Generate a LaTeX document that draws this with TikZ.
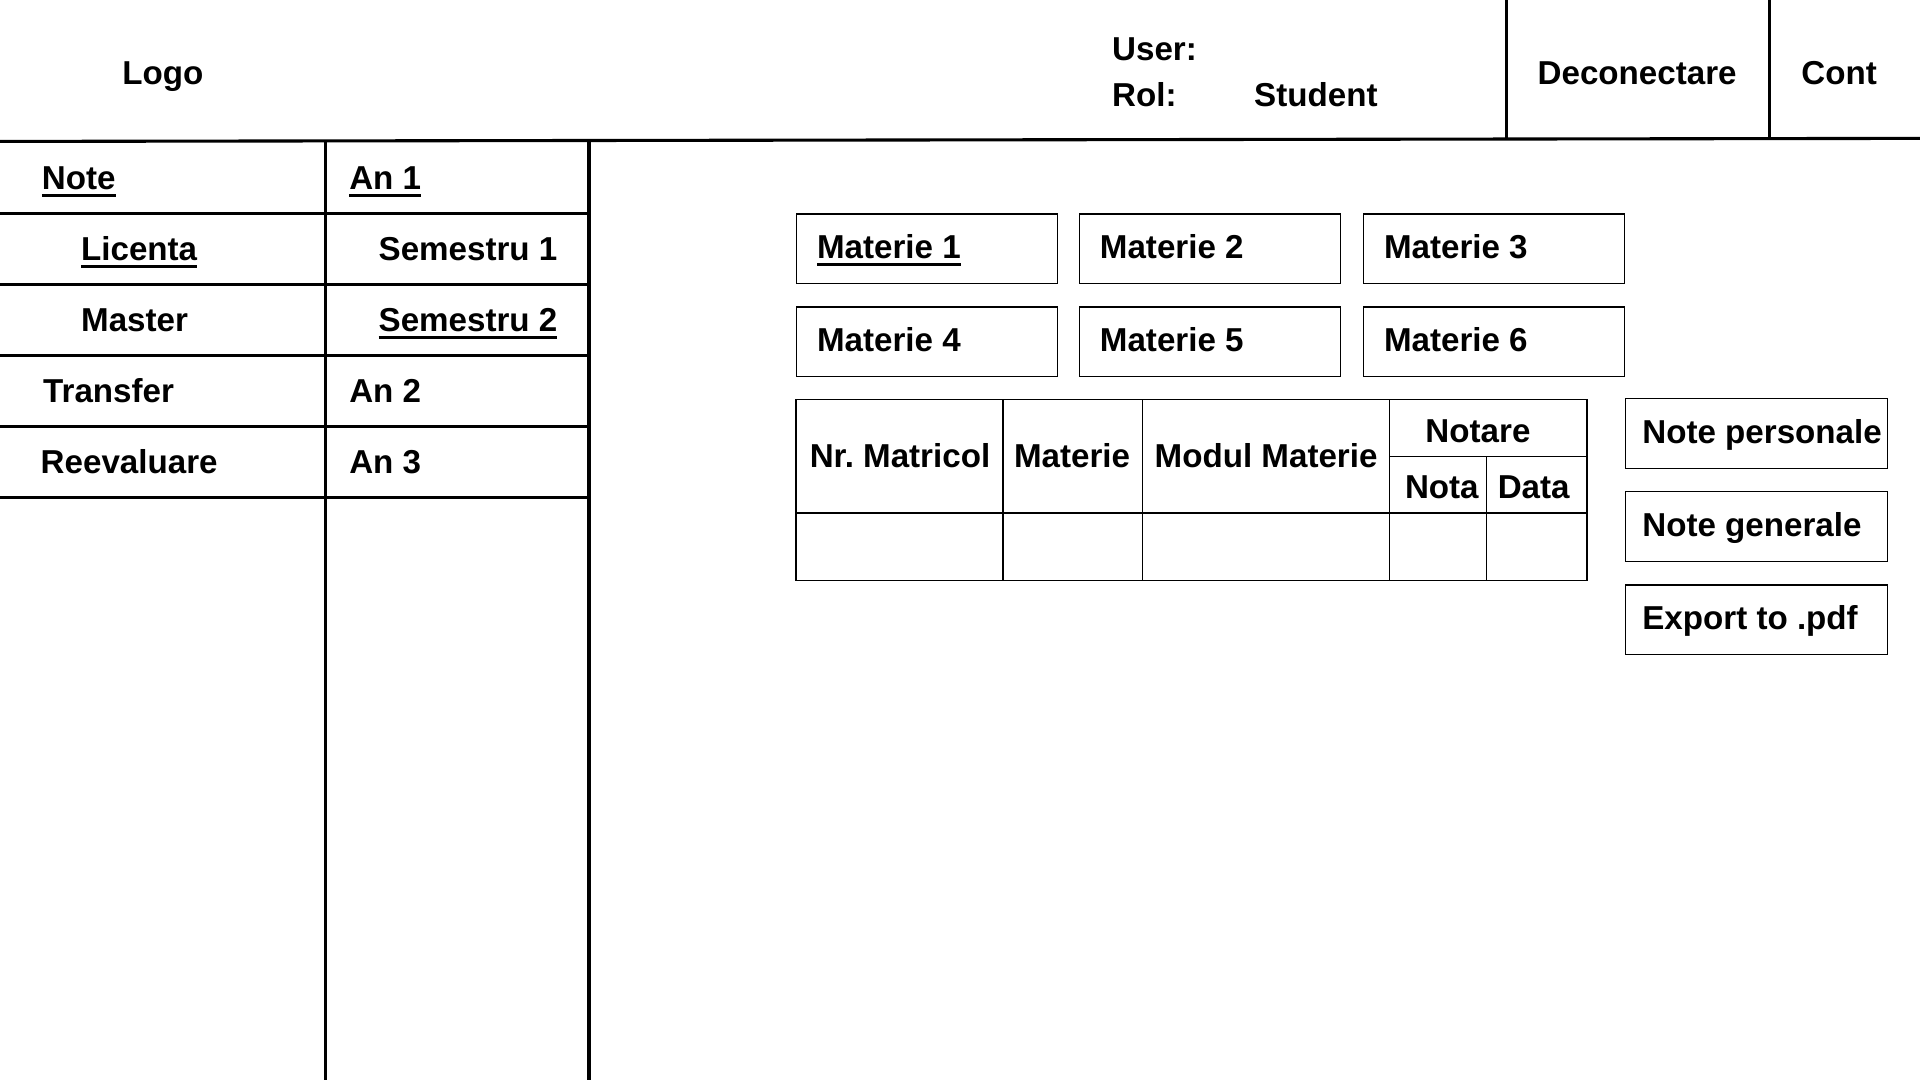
\documentclass[tikz,border=0pt]{standalone}
\usepackage{fontspec}
\setmainfont{Liberation Sans}
\usepackage{tikz}
\frenchspacing

\newcommand{\uifont}{\fontsize{20.3pt}{24pt}\selectfont\bfseries}
\newcommand{\undl}[1]{\setbox0\hbox{#1}\rlap{\raisebox{-4.6pt}{\rule{\wd0}{1.9pt}}}\box0}

\tikzset{
  frame/.style={line width=1.9pt},
  grid/.style={line width=0.8pt},
  lbl/.style={anchor=base west, inner sep=0pt, yshift=0.75pt, font=\uifont},
  lblc/.style={anchor=base, inner sep=0pt, yshift=0.75pt, font=\uifont},
  matbox/.style={draw, line width=0.9pt, anchor=north west, inner sep=0pt, minimum width=159.75pt, minimum height=42.75pt},
  sidebtn/.style={draw, line width=0.9pt, anchor=north west, inner sep=0pt, minimum width=160.5pt, minimum height=42.75pt},
}

\begin{document}
\begin{tikzpicture}[x=0.75pt,y=0.75pt,yscale=-1,xscale=1]
\fill [white] (0,0) rectangle (1568,882) ;
\useasboundingbox (0,0) rectangle (1568,882) ;

%Header bar
\draw [frame] (0,115.5) -- (1568,113) ;
\draw [frame] (1230,0) -- (1230,113.5) ;
\draw [frame] (1445,0) -- (1445,113) ;
\node [lblc] (logo) at (133,70) {Logo};
\node [lbl] (user) at (908,50) {User:};
\node [lbl] (rol) at (908,88) {Rol:};
\node [lbl] (student) at (1024,88) {Student};
\node [lblc] (deconectare) at (1337,70) {Deconectare};
\node [lblc] (cont) at (1502,70) {Cont};

%Side menu
\draw [frame] (266,115.5) -- (266,882) ;
\draw [frame] (481,115) -- (481,882) ;
\foreach \y in {174,232,290,348,406} {
  \draw [frame] (0,\y) -- (481,\y) ;
}
\node [lbl] (note) at (34,156) {\undl{Note}};
\node [lbl] (licenta) at (66,214) {\undl{Licenta}};
\node [lbl] (master) at (66,272) {Master};
\node [lbl] (transfer) at (35,330) {Transfer};
\node [lbl] (reevaluare) at (33,388) {Reevaluare};
\node [lbl] (an1) at (285,156) {\undl{An 1}};
\node [lbl] (sem1) at (309,214) {Semestru 1};
\node [lbl] (sem2) at (309,272) {\undl{Semestru 2}};
\node [lbl] (an2) at (285,330) {An 2};
\node [lbl] (an3) at (285,388) {An 3};

%Subject buttons
\foreach \i/\x/\y/\txt in {1/650/174/\undl{Materie 1}, 2/881/174/Materie 2, 3/1113/174/Materie 3,
                            4/650/250/Materie 4, 5/881/250/Materie 5, 6/1113/250/Materie 6} {
  \node [matbox] (mat\i) at (\x,\y) {};
  \node [lbl] (mat\i txt) at (\x+17,\y+38) {\txt};
}

%Grades table
\draw [grid] (650,326) rectangle (1296,474) ;
\draw [grid] (650,419) -- (1296,419) ;
\draw [grid] (1135,373) -- (1296,373) ;
\foreach \x in {819,933,1135} {
  \draw [grid] (\x,326) -- (\x,474) ;
}
\draw [grid] (1214,373) -- (1214,474) ;
\node [lblc] (nrmatricol) at (735,383) {Nr. Matricol};
\node [lblc] (materie) at (875.5,383) {Materie};
\node [lblc] (modul) at (1034,383) {Modul Materie};
\node [lblc] (notare) at (1207,362) {Notare};
\node [lblc] (nota) at (1177.5,408) {Nota};
\node [lblc] (data) at (1252.5,408) {Data};

%Side buttons
\foreach \i/\y/\txt in {1/325/Note personale, 2/401/Note generale, 3/477/Export to .pdf} {
  \node [sidebtn] (btn\i) at (1327,\y) {};
  \node [lbl] (btn\i txt) at (1341,\y+38) {\txt};
}

\end{tikzpicture}
\end{document}
